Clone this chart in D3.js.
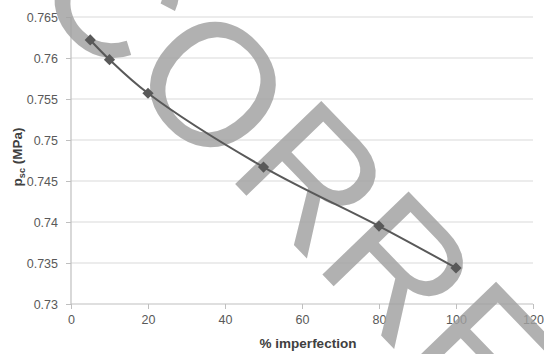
<!DOCTYPE html>
<html><head><meta charset="utf-8">
<script src="https://cdn.jsdelivr.net/npm/d3@7"></script>
<style>body{margin:0;background:#fff}svg{display:block}</style>
</head><body>
<svg id="c" width="544" height="354"></svg>
<script>
const xValues = [5, 10, 20, 50, 80, 100];
const yValues = [0.7622, 0.7598, 0.7557, 0.7467, 0.7395, 0.7344];
const xTicks = [0, 20, 40, 60, 80, 100, 120];
const yTicks = [0.73, 0.735, 0.74, 0.745, 0.75, 0.755, 0.76, 0.765];
const xTitle = "% imperfection";
const watermark = ["C", "O", "RRECTION"];

const svg = d3.select("#c");
const m = {l:71, r:533, t:17, b:304};
const x = d3.scaleLinear().domain([0,120]).range([m.l, m.r]);
const y = d3.scaleLinear().domain([0.73,0.765]).range([m.b, m.t]);
const font = "'Liberation Sans', Arial, sans-serif";

// grid
svg.append("g").selectAll("line").data(yTicks.slice(1)).join("line")
  .attr("x1", m.l).attr("x2", m.r).attr("y1", d=>y(d)).attr("y2", d=>y(d))
  .attr("stroke", "#d9d9d9").attr("stroke-width", 1.2);

// axes
const xa = svg.append("g").attr("transform", `translate(0,${m.b})`)
  .call(d3.axisBottom(x).tickValues(xTicks).tickSize(5).tickPadding(6).tickFormat(d3.format("d")));
const ya = svg.append("g").attr("transform", `translate(${m.l},0)`)
  .call(d3.axisLeft(y).tickValues(yTicks).tickSize(5).tickPadding(8).tickFormat(d=>String(+d.toFixed(3))));
[xa, ya].forEach(a=>{
  a.select(".domain").attr("stroke", "#bfbfbf").attr("stroke-width",1.2);
  a.selectAll(".tick line").attr("stroke", "#bfbfbf");
  a.selectAll("text").attr("fill", "#595959").attr("font-size", 12.5).attr("font-family", font);
});
ya.select(".domain").attr("d", `M0,${m.b}V${m.t}`);
xa.select(".domain").attr("d", `M${m.l},0H${m.r}`);

// watermark (under the data line)
const wm = svg.append("text").attr("transform","translate(44,-14) rotate(46)")
  .attr("font-family", font).attr("font-size", 174).attr("fill","#a0a0a0").attr("fill-opacity",0.82);
const shifts = [[-9,15],[4,-8],[5,-7]];
watermark.forEach((s,i)=>wm.append("tspan").attr("dx", shifts[i][0]).attr("dy", shifts[i][1]).text(s));

// line
const pts = xValues.map((v,i)=>[x(v), y(yValues[i])]);
svg.append("path").attr("d", d3.line().curve(d3.curveCatmullRom.alpha(0.5))(pts))
  .attr("fill","none").attr("stroke","#595959").attr("stroke-width",2);
svg.append("g").selectAll("path").data(pts).join("path")
  .attr("d", d3.symbol(d3.symbolDiamond2, 80))
  .attr("transform", d=>`translate(${d[0]},${d[1]})`)
  .attr("fill","#595959");

// titles
svg.append("text").attr("x", 308).attr("y", 348).attr("text-anchor","middle")
  .attr("font-family", font).attr("font-weight","bold").attr("font-size", 13.5).attr("fill","#404040")
  .text(xTitle);
const yt = svg.append("text").attr("transform","translate(22,157) rotate(-90)").attr("text-anchor","middle")
  .attr("font-family", font).attr("font-weight","bold").attr("font-size", 13.5).attr("fill","#404040");
yt.append("tspan").text("p");
yt.append("tspan").attr("font-size", 9).attr("dy", 3).text("sc");
yt.append("tspan").attr("dy", -3).text(" (MPa)");
</script>
</body></html>
